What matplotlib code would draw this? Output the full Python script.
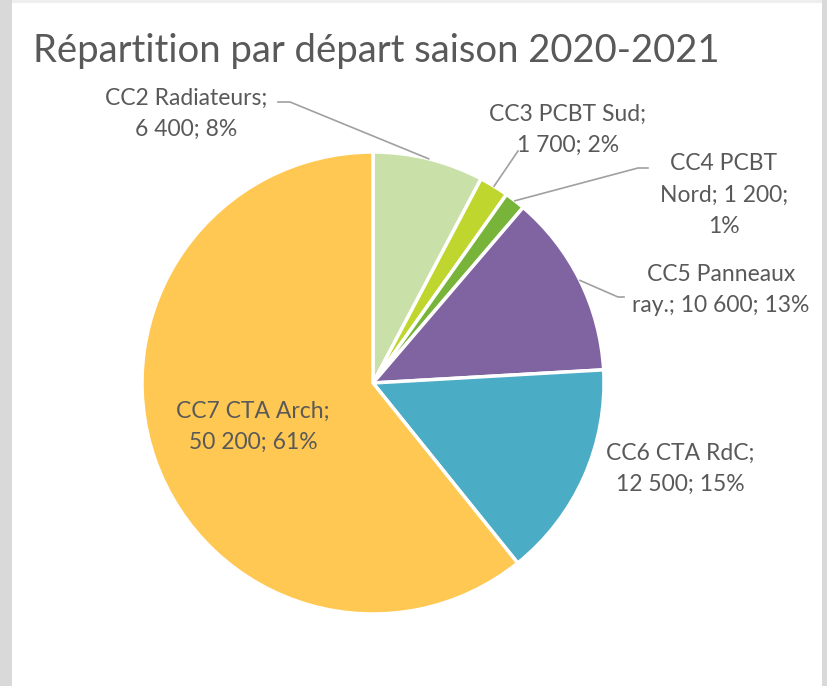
import numpy as np
import matplotlib
matplotlib.use("Agg")
import matplotlib.pyplot as plt
from matplotlib.patches import Rectangle

# data
names = ["CC2 Radiateurs", "CC3 PCBT Sud", "CC4 PCBT\nNord", "CC5 Panneaux\nray.", "CC6 CTA RdC", "CC7 CTA Arch"]
values = [6400, 1700, 1200, 10600, 12500, 50200]
colors = ["#c9e1a8", "#bfd62e", "#78b43a", "#8064a2", "#4bacc6", "#ffc853"]
title = "Répartition par départ saison 2020-2021"

# label layout (pixel positions of the label block centre, elbow of leader line)
label_fmt = ["{n};\n{v}; {p}%", "{n};\n{v}; {p}%", "{n}; {v};\n{p}%",
             "{n}; {v}; {p}%", "{n};\n{v}; {p}%", "{n};\n{v}; {p}%"]
label_pos = [(186, 114), (568, 130), (724, 195), (721, 290), (680, 469), (253, 427)]
leader_pts = [[(278, 102), (290, 102)], [(518, 151)], [(648, 168), (638, 168)],
              [(624, 297), (618, 297)], None, None]

W, H = 827, 686
cx, cy, R = 373, 383, 231
txt_col = "#595959"
font = ["Lato", "DejaVu Sans"]

plt.rcParams["font.family"] = font
fig = plt.figure(figsize=(W / 100, H / 100), dpi=100, facecolor="#d9d9d9")

# white chart area inside the grey frame
fig.patches.append(Rectangle((12 / W, 0), (822 - 12) / W, 1 - 3 / H, transform=fig.transFigure,
                             facecolor="white", edgecolor="none", zorder=-2))
fig.patches.append(Rectangle((12 / W, 1 - 3 / H), (822 - 12) / W, 3 / H, transform=fig.transFigure,
                             facecolor="#eeeeee", edgecolor="none", zorder=-2))

ax = fig.add_axes([(cx - R) / W, (H - cy - R) / H, 2 * R / W, 2 * R / H])
ax.set_facecolor("none")

wedges, _ = ax.pie(values, colors=colors, startangle=90, counterclock=False, radius=1,
                   wedgeprops=dict(edgecolor="white", linewidth=2.5))
ax.set_xlim(-1, 1)
ax.set_ylim(-1, 1)
ax.axis("off")


def px(p):
    return ((p[0] - cx) / R, (cy - p[1]) / R)


def fmt(v):
    return f"{v:,}".replace(",", " ")


total = sum(values)
for i, w in enumerate(wedges):
    pct = round(100 * values[i] / total)
    txt = label_fmt[i].format(n=names[i], v=fmt(values[i]), p=pct)
    tx, ty = px(label_pos[i])
    ax.text(tx, ty, txt, ha="center", va="center", color=txt_col, fontsize=16.5,
            linespacing=1.6, clip_on=False)
    if leader_pts[i] is not None:
        mid = np.deg2rad((w.theta1 + w.theta2) / 2)
        pts = [(np.cos(mid), np.sin(mid))] + [px(p) for p in leader_pts[i][::-1]]
        xs, ys = zip(*pts)
        ax.plot(xs, ys, color="#a0a0a0", lw=1.2, clip_on=False)

fig.text(33 / W, 1 - 51 / H, title, ha="left", va="center", color=txt_col, fontsize=27.5)

fig.savefig("out.png", dpi=100, facecolor=fig.get_facecolor())
